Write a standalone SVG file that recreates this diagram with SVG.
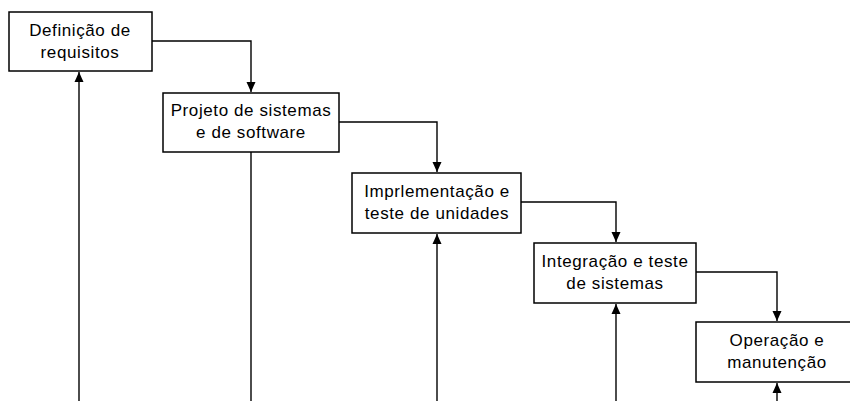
<svg xmlns="http://www.w3.org/2000/svg" width="850" height="401" viewBox="0 0 850 401">
<style>
.box{fill:#fff;stroke:#000;stroke-width:1.5}
.lbl{font-family:"Liberation Sans",Arial,sans-serif;font-size:17px;letter-spacing:0.6px;fill:#000;text-anchor:middle}
.con{fill:none;stroke:#000;stroke-width:1.4}
</style>
<defs>
<marker id="ah" markerWidth="10" markerHeight="10" viewBox="0 0 10 10" refX="10" refY="5" orient="auto" markerUnits="userSpaceOnUse">
<path d="M0,0.5 L10,5 L0,9.5 Z" fill="#000"/>
</marker>
</defs>
<rect width="850" height="401" fill="#fff"/>
<g id="connectors">
<path class="con" d="M152,41 H251 V92" marker-end="url(#ah)"/>
<path class="con" d="M339,122 H437 V172" marker-end="url(#ah)"/>
<path class="con" d="M521,202 H616 V242" marker-end="url(#ah)"/>
<path class="con" d="M696,272 H777 V321" marker-end="url(#ah)"/>
<path class="con" d="M79,401 V72" marker-end="url(#ah)"/>
<path class="con" d="M251,152 V401"/>
<path class="con" d="M437,401 V234" marker-end="url(#ah)"/>
<path class="con" d="M616,401 V304" marker-end="url(#ah)"/>
<path class="con" d="M777,401 V383" marker-end="url(#ah)"/>
</g>
<g id="n1">
<rect class="box" x="9" y="12" width="143" height="59"/>
<text class="lbl" x="80" y="36">Definição de</text>
<text class="lbl" x="80" y="58">requisitos</text>
</g>
<g id="n2">
<rect class="box" x="163" y="93" width="176" height="59"/>
<text class="lbl" x="251" y="116">Projeto de sistemas</text>
<text class="lbl" x="251" y="138">e de software</text>
</g>
<g id="n3">
<rect class="box" x="352" y="173" width="169" height="60"/>
<text class="lbl" x="437" y="197">Imprlementação e</text>
<text class="lbl" x="437" y="219">teste de unidades</text>
</g>
<g id="n4">
<rect class="box" x="534" y="243" width="162" height="60"/>
<text class="lbl" x="615" y="267">Integração e teste</text>
<text class="lbl" x="615" y="289">de sistemas</text>
</g>
<g id="n5">
<rect class="box" x="696" y="322" width="162" height="60"/>
<text class="lbl" x="777" y="346">Operação e</text>
<text class="lbl" x="777" y="368">manutenção</text>
</g>
</svg>
